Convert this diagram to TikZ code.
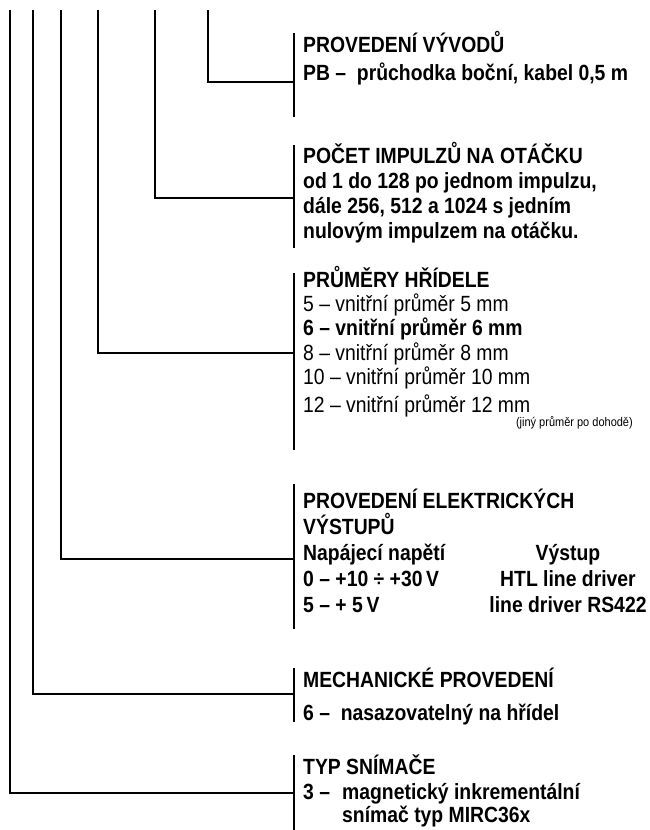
\documentclass[tikz,border=0pt]{standalone}
\usepackage{fontspec}
\setmainfont{Liberation Sans}[FakeStretch=0.88]
\usetikzlibrary{positioning}

\begin{document}
\begin{tikzpicture}[
  x=1pt, y=-1pt,
  lead/.style={line width=2pt},
  brace/.style={line width=2pt},
  txt/.style={anchor=base west, inner sep=0pt, align=left, font=\fontsize{22}{25}\selectfont},
  hd/.style={txt, font=\fontsize{22}{25}\selectfont\bfseries},
  col/.style={anchor=base, inner sep=0pt, align=center, font=\fontsize{22}{26}\selectfont\bfseries},
  note/.style={anchor=base east, inner sep=0pt, font=\fontsize{12.5}{13}\selectfont}
]
\useasboundingbox (0,0) rectangle (649,830);

% text blocks (placed at the baseline of their last line)
\node[hd] (vyvody) at (303,80) {PROVEDENÍ VÝVODŮ\\[3pt] PB –\ \ průchodka boční, kabel 0,5 m};
\node[hd] (impulzy) at (303,238) {POČET IMPULZŮ NA OTÁČKU\\ od 1 do 128 po jednom impulzu,\\ dále 256, 512 a 1024 s jedním\\ nulovým impulzem na otáčku.};
\node[txt, font=\fontsize{22}{24.4}\selectfont] (hridel) at (303,412) {\textbf{PRŮMĚRY HŘÍDELE}\\ 5 – vnitřní průměr 5 mm\\ \textbf{6 – vnitřní průměr 6 mm}\\ 8 – vnitřní průměr 8 mm\\ 10 – vnitřní průměr 10 mm\\[3pt] 12 – vnitřní průměr 12 mm};
\node[note] (dohoda) at (633,426) {(jiný průměr po dohodě)};
\node[hd, font=\fontsize{22}{26}\selectfont\bfseries] (vystupy) at (303,612) {PROVEDENÍ ELEKTRICKÝCH\\ VÝSTUPŮ\\ Napájecí napětí\\ 0 – +10 ÷ +30\,V\\ 5 – + 5\,V};
\node[col] (vystup) at (568,612) {Výstup\\ HTL line driver\\ line driver RS422};
\node[hd] (mech) at (303,720) {MECHANICKÉ PROVEDENÍ\\[8pt] 6 –\ \ nasazovatelný na hřídel};
\node[hd] (typ) at (303,822) {TYP SNÍMAČE\\ \makebox[39pt][l]{3 –}magnetický inkrementální\\[-2pt] \hspace*{39pt}snímač typ MIRC36x};

% brackets
\coordinate (b1t) at (294,33);  \coordinate (b1b) at (294,117);
\coordinate (b2t) at (294,145); \coordinate (b2b) at (294,248);
\coordinate (b3t) at (294,273); \coordinate (b3b) at (294,450);
\coordinate (b4t) at (294,484); \coordinate (b4b) at (294,629);
\coordinate (b5t) at (294,668); \coordinate (b5b) at (294,722);
\coordinate (b6t) at (294,755); \coordinate (b6b) at (294,830);
\draw[brace] (b1t) -- (b1b);
\draw[brace] (b2t) -- (b2b);
\draw[brace] (b3t) -- (b3b);
\draw[brace] (b4t) -- (b4b);
\draw[brace] (b5t) -- (b5b);
\draw[brace] (b6t) -- (b6b);

% leads from the code positions
\coordinate (k1) at (208,10); \coordinate (j1) at (294,82);
\coordinate (k2) at (155,10); \coordinate (j2) at (294,198);
\coordinate (k3) at (98,10);  \coordinate (j3) at (294,353);
\coordinate (k4) at (61,10);  \coordinate (j4) at (294,559);
\coordinate (k5) at (33,10);  \coordinate (j5) at (294,694);
\coordinate (k6) at (10,10);  \coordinate (j6) at (294,793);
\draw[lead] (k1) |- (j1);
\draw[lead] (k2) |- (j2);
\draw[lead] (k3) |- (j3);
\draw[lead] (k4) |- (j4);
\draw[lead] (k5) |- (j5);
\draw[lead] (k6) |- (j6);
\end{tikzpicture}
\end{document}
